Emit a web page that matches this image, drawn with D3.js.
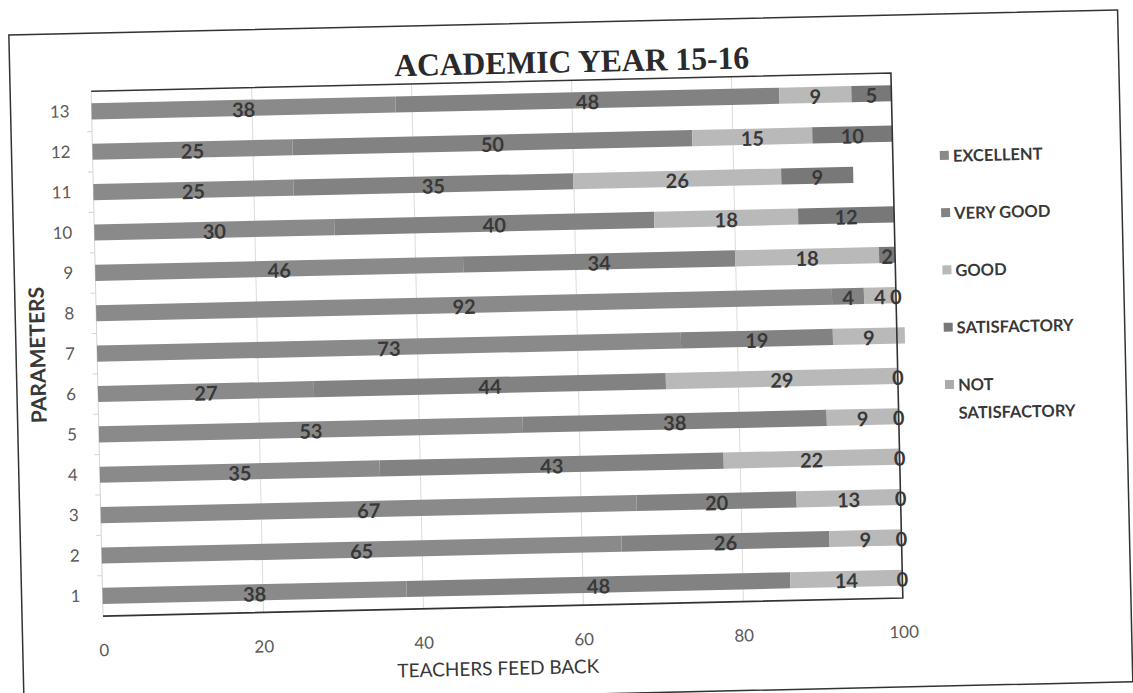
<!DOCTYPE html>
<html>
<head>
<meta charset="utf-8">
<script src="https://cdn.jsdelivr.net/npm/d3@7"></script>
<style>
  body { margin:0; background:#fff; }
  svg { display:block; }
</style>
</head>
<body>
<div id="canvas"></div>
<script>
// data
var params = ['1','2','3','4','5','6','7','8','9','10','11','12','13'];
var excellent       = [38,65,67,35,53,27,73,92,46,30,25,25,38];
var veryGood        = [48,26,20,43,38,44,19, 4,34,40,35,50,48];
var good            = [14, 9,13,22, 9,29, 9, 4,18,18,26,15, 9];
var satisfactory    = [ 0, 0, 0, 0, 0, 0,null,0, 2,12, 9,10, 5];
var notSatisfactory = [null,null,null,null,null,null,null,null,null,null,null,null,null];
var seriesNames = ['EXCELLENT','VERY GOOD','GOOD','SATISFACTORY','NOT SATISFACTORY'];
var xTicks = [0,20,40,60,80,100];

var colors = ['#8a8a8a','#828282','#b9b9b9','#787878','#ababab'];

var W = 1133, H = 693;
var m = {t:82, r:236, b:86, l:97};
var w = W - m.l - m.r, h = H - m.t - m.b;

var svg = d3.select('#canvas').append('svg')
    .attr('width', W).attr('height', H);

// the scan is tilted a little, so the whole page is rotated
var page = svg.append('g')
    .attr('transform','rotate(-1.3,500,345)');

// outer frame
page.append('rect')
    .attr('x',16).attr('y',24)
    .attr('width',1109).attr('height',672)
    .attr('fill','none').attr('stroke','#333').attr('stroke-width',1.5);

var rows = params.map(function(p,i){
    return {param:p, v:[excellent[i],veryGood[i],good[i],satisfactory[i],notSatisfactory[i]]};
});

var x = d3.scaleLinear().domain([0,100]).range([0,w]);
var y = d3.scaleBand().domain(params.slice().reverse())
    .range([0,h]).paddingInner(0.6).paddingOuter(0.3);

var stack = d3.stack().keys([0,1,2,3,4])
    .value(function(d,k){ return d.v[k] == null ? 0 : d.v[k]; });
var layers = stack(rows);

var plot = page.append('g')
    .attr('transform','translate(' + m.l + ',' + m.t + ')');

// gridlines
plot.append('g')
    .attr('class','grid')
    .attr('transform','translate(0,' + h + ')')
    .call(d3.axisBottom(x).tickValues([20,40,60,80]).tickSize(-h).tickFormat(''))
    .call(function(g){
        g.select('.domain').remove();
        g.selectAll('line').attr('stroke','#dcdcdc');
    });

// faint category axis on the left
plot.append('line')
    .attr('x1',0).attr('x2',0).attr('y1',0).attr('y2',h)
    .attr('stroke','#d4d4d4');
plot.append('g').selectAll('line')
    .data(params.slice(1))
    .enter().append('line')
    .attr('x1',-5).attr('x2',0)
    .attr('y1',function(d){ return y(d) + y.bandwidth() + y.step()*y.paddingInner()/2; })
    .attr('y2',function(d){ return y(d) + y.bandwidth() + y.step()*y.paddingInner()/2; })
    .attr('stroke','#d4d4d4');

// bars
var layerG = plot.selectAll('.layer')
    .data(layers)
    .enter().append('g')
    .attr('class','layer')
    .attr('fill',function(d){ return colors[d.key]; });

layerG.selectAll('rect')
    .data(function(d){ return d; })
    .enter().append('rect')
    .attr('x',function(d){ return x(d[0]); })
    .attr('y',function(d){ return y(d.data.param); })
    .attr('width',function(d){ return x(d[1]) - x(d[0]); })
    .attr('height',y.bandwidth());

// data labels
layers.forEach(function(layer){
    plot.append('g').selectAll('text')
        .data(layer.filter(function(d){ return d.data.v[layer.key] != null; }))
        .enter().append('text')
        .attr('x',function(d){ return x((d[0] + d[1]) / 2); })
        .attr('y',function(d){ return y(d.data.param) + y.bandwidth()/2; })
        .attr('dy','0.45em')
        .attr('text-anchor','middle')
        .style('font-family','Lato, sans-serif')
        .style('font-weight','bold')
        .style('font-size','20px')
        .style('fill','#383838')
        .text(function(d){ return d.data.v[layer.key]; });
});

// plot border: top, right, bottom
plot.append('path')
    .attr('d','M0,0H' + w + 'V' + h + 'H0')
    .attr('fill','none').attr('stroke','#333').attr('stroke-width',1.6);

// y axis labels
plot.append('g')
    .call(d3.axisLeft(y).tickSize(0).tickPadding(22))
    .call(function(g){
        g.select('.domain').remove();
        g.selectAll('text')
            .style('font-family','Lato, sans-serif')
            .style('font-size','17px')
            .style('fill','#5a5a5a');
    });

// x axis labels
plot.append('g')
    .attr('transform','translate(0,' + h + ')')
    .call(d3.axisBottom(x).tickValues(xTicks).tickSize(0).tickPadding(28))
    .call(function(g){
        g.select('.domain').remove();
        g.selectAll('text')
            .style('font-family','Lato, sans-serif')
            .style('font-size','17px')
            .style('fill','#5a5a5a');
    });

// axis titles
plot.append('text')
    .attr('x', w/2 - 6).attr('y', h + 68)
    .attr('text-anchor','middle')
    .style('font-family','Lato, sans-serif')
    .style('font-size','19px')
    .style('fill','#383838')
    .text('TEACHERS FEED BACK');

plot.append('text')
    .attr('transform','translate(-52,' + (h/2) + ') rotate(-90)')
    .attr('text-anchor','middle')
    .style('font-family','Lato, sans-serif')
    .style('font-weight','bold')
    .style('font-size','21px')
    .style('fill','#383838')
    .text('PARAMETERS');

// title
page.append('text')
    .attr('x',578).attr('y',74)
    .attr('text-anchor','middle')
    .attr('textLength',355)
    .attr('lengthAdjust','spacingAndGlyphs')
    .style('font-family','"Liberation Serif", serif')
    .style('font-weight','bold')
    .style('font-size','32px')
    .style('fill','#2a2a2a')
    .text('ACADEMIC YEAR 15-16');

// legend
var legend = page.append('g')
    .attr('transform','translate(944,166)');
var item = legend.selectAll('.item')
    .data(seriesNames)
    .enter().append('g')
    .attr('class','item')
    .attr('transform',function(d,i){ return 'translate(0,' + (i*57.3) + ')'; });
item.append('rect')
    .attr('x',0).attr('y',-5)
    .attr('width',9).attr('height',9)
    .attr('fill',function(d,i){ return colors[i]; });
item.append('text')
    .attr('x',13).attr('y',0)
    .style('font-family','Lato, sans-serif')
    .style('font-weight','bold')
    .style('font-size','16.5px')
    .style('fill','#383838')
    .each(function(d){
        var words = d === 'NOT SATISFACTORY' ? ['NOT','SATISFACTORY'] : [d];
        var t = d3.select(this);
        words.forEach(function(wd,j){
            t.append('tspan').attr('x',13).attr('dy', j === 0 ? '0.36em' : '1.7em').text(wd);
        });
    });
</script>
</body>
</html>
